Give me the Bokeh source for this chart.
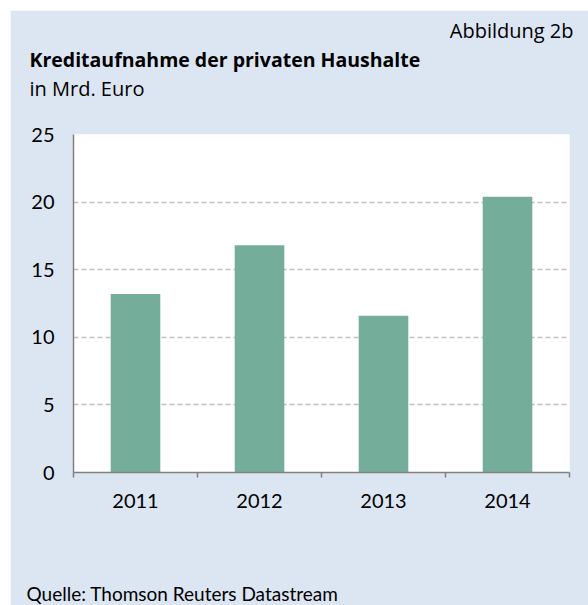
from bokeh.plotting import figure
from bokeh.models import FixedTicker, Range1d, Title, Spacer
from bokeh.layouts import column, row
from bokeh.embed import file_html
from bokeh.resources import INLINE

years = ["2011", "2012", "2013", "2014"]
values = [13.2, 16.8, 11.6, 20.4]
y_ticks = [0, 5, 10, 15, 20, 25]

BG = "#dce6f2"
BAR = "#74ae9b"
FONT = "Lato"
TFONT = "Open Sans"

xs = [i + 0.5 for i in range(len(years))]

p = figure(width=578, height=595, output_backend="svg", toolbar_location=None,
           x_range=Range1d(0, len(years)), y_range=Range1d(0, 25),
           min_border_left=63, min_border_right=19, min_border_top=124, min_border_bottom=133)
p.background_fill_color = "white"
p.border_fill_color = BG
p.outline_line_color = None

p.vbar(x=xs, top=values, width=0.4, bottom=0, fill_color=BAR, line_color=None)

# x axis
p.xaxis.ticker = FixedTicker(ticks=xs, minor_ticks=list(range(len(years) + 1)))
p.xaxis.major_label_overrides = {x: y for x, y in zip(xs, years)}
p.xaxis.major_tick_line_color = None
p.xaxis.minor_tick_out = 5
p.xaxis.minor_tick_in = 0
p.xaxis.minor_tick_line_color = "#808080"
p.xaxis.minor_tick_line_width = 1.5
p.xaxis.axis_line_color = "#808080"
p.xaxis.axis_line_width = 1.5
p.xaxis.major_label_standoff = 15
p.xaxis.major_label_text_font = FONT
p.xaxis.major_label_text_font_size = "20px"
p.xaxis.major_label_text_color = "black"

# y axis
p.yaxis.ticker = FixedTicker(ticks=y_ticks)
p.yaxis.major_tick_line_color = None
p.yaxis.minor_tick_line_color = None
p.yaxis.axis_line_color = "#808080"
p.yaxis.axis_line_width = 1.5
p.yaxis.major_label_standoff = 13
p.yaxis.major_label_text_font = FONT
p.yaxis.major_label_text_font_size = "20px"
p.yaxis.major_label_text_color = "black"

p.xgrid.grid_line_color = None
p.ygrid.ticker = FixedTicker(ticks=y_ticks[1:])
p.ygrid.grid_line_color = "#bfbfbf"
p.ygrid.grid_line_width = 1.5
p.ygrid.grid_line_dash = "5 3"

def title(text, side, size, font, bold=False, align="left", offset=0, standoff=0):
    p.add_layout(Title(text=text, align=align, offset=offset, standoff=standoff,
                       text_font=font, text_font_size=size, text_color="black",
                       text_font_style="bold" if bold else "normal"), side)

# above: first added sits next to the frame; a blank title acts as a gap
title(" ", "above", "20px", TFONT, standoff=4)
title("in Mrd. Euro", "above", "20px", TFONT, offset=-44)
title("Kreditaufnahme der privaten Haushalte", "above", "19.5px", TFONT, bold=True, offset=-44)
title("Abbildung 2b", "above", "20px", TFONT, align="right", offset=-4)
# below: gap after the axis, then the source line
title(" ", "below", "19px", FONT, standoff=43.5)
title("Quelle: Thomson Reuters Datastream", "below", "19px", FONT, offset=-47)

layout = column(Spacer(height=10), row(Spacer(width=10), p))
open("out.html", "w").write(file_html(layout, INLINE))
